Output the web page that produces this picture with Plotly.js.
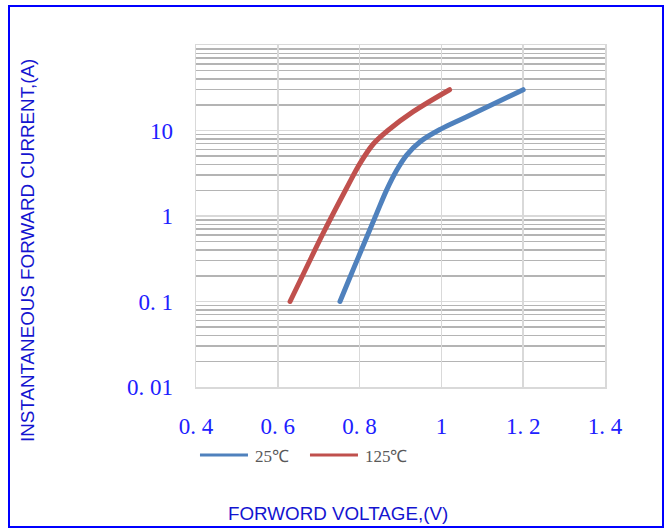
<!DOCTYPE html>
<html>
<head>
<meta charset="utf-8">
<script src="https://cdn.plot.ly/plotly-3.0.1.min.js"></script>
<style>
  html, body { margin: 0; padding: 0; background: #fff; }
  #wrap { position: relative; width: 669px; height: 528px; }
  #chart { position: absolute; left: 0; top: 0; width: 669px; height: 528px; }
  #frame { position: absolute; left: 8px; top: 5px; width: 652px; height: 519px;
           border: 2.5px solid #0000ff; pointer-events: none; }
  .scatterlayer path.js-line { stroke-linecap: round; }
  .legend .legendlines path { stroke-width: 3px !important; }
</style>
</head>
<body>
<div id="wrap">
  <div id="chart"></div>
  <div id="frame"></div>
</div>
<script>
// Data
const seriesNames = ["25℃", "125℃"];
const v25  = [0.752, 0.777, 0.801, 0.842, 0.866, 0.891, 0.915, 0.948, 0.997, 1.062, 1.20];
const i25  = [0.10, 0.195, 0.366, 1.08, 2.01, 3.45, 5.16, 7.4, 10.3, 14.5, 30];
const v125 = [0.63, 0.671, 0.711, 0.768, 0.801, 0.834, 0.869, 0.931, 1.02];
const i125 = [0.10, 0.255, 0.63, 2.11, 4.13, 7.0, 10.0, 16.6, 30];

const xTickVals = [0.4, 0.6, 0.8, 1.0, 1.2, 1.4];
const xTickText = ["0. 4", "0. 6", "0. 8", "1", "1. 2", "1. 4"];
const yTickVals = [0.01, 0.1, 1, 10];
const yTickText = ["0. 01", "0. 1", "1", "10"];
const decades = [0.01, 0.1, 1, 10];
const digits = [2, 3, 4, 5, 6, 7, 8, 9];
const yMinorVals = [];
decades.forEach(d => digits.forEach(k => yMinorVals.push(+(d * k).toPrecision(3))));

const xTitle = "FORWORD VOLTAGE,(V)";
const yTitle = "INSTANTANEOUS FORWARD CURRENT,(A)";

const traces = [
  { x: v25, y: i25, name: seriesNames[0], type: "scatter", mode: "lines",
    line: { color: "#4F81BD", width: 5, shape: "spline", smoothing: 1 } },
  { x: v125, y: i125, name: seriesNames[1], type: "scatter", mode: "lines",
    line: { color: "#C0504D", width: 5, shape: "spline", smoothing: 1 } }
];

const tickFont = { family: "Liberation Serif, Times New Roman, serif", size: 23, color: "#2020ff" };
const titleFont = { family: "Liberation Sans, Arial, sans-serif", size: 18.8, color: "#1414d0" };

const layout = {
  width: 669, height: 528,
  margin: { l: 196, r: 64, t: 45, b: 141 },
  paper_bgcolor: "#ffffff", plot_bgcolor: "#ffffff",
  showlegend: true,
  legend: {
    orientation: "h", x: -0.0025, xanchor: "left", y: -0.2, yanchor: "middle",
    font: { family: "Liberation Serif, Times New Roman, serif", size: 17, color: "#595959" },
    itemwidth: 50, entrywidth: 45, entrywidthmode: "pixels", bgcolor: "rgba(0,0,0,0)"
  },
  xaxis: {
    type: "linear", range: [0.4, 1.4],
    tickmode: "array", tickvals: xTickVals, ticktext: xTickText,
    tickfont: tickFont, ticks: "", ticklabelstandoff: 18,
    showgrid: true, gridcolor: "#d9d9d9", gridwidth: 1.5,
    showline: true, linecolor: "#d9d9d9", linewidth: 1.5, mirror: true,
    zeroline: false, fixedrange: true
  },
  yaxis: {
    type: "log", range: [-2, 2],
    tickmode: "array", tickvals: yTickVals, ticktext: yTickText,
    tickfont: tickFont, ticks: "", ticklabelstandoff: 17,
    showgrid: true, gridcolor: "#d9d9d9", gridwidth: 1.5,
    minor: { tickmode: "array", tickvals: yMinorVals, showgrid: true,
             gridcolor: "#b4b4b4", gridwidth: 1.5, ticks: "" },
    showline: true, linecolor: "#d9d9d9", linewidth: 1.5, mirror: true,
    zeroline: false, fixedrange: true
  },
  annotations: [
    { text: xTitle, xref: "paper", yref: "paper", x: (338 - 196) / 409, y: (387 - 513) / 342,
      xanchor: "center", yanchor: "middle", showarrow: false, font: titleFont },
    { text: yTitle, xref: "paper", yref: "paper", x: (27 - 196) / 409, y: (387 - 251) / 342,
      xanchor: "center", yanchor: "middle", textangle: -90, showarrow: false, font: titleFont }
  ]
};

Plotly.newPlot("chart", traces, layout, { displayModeBar: false, staticPlot: true }).then(() => {
  // lengthen the legend line samples to match the reference
  document.querySelectorAll("#chart .legend .legendlines path").forEach(p => p.setAttribute("d", "M5,0h48"));
});
</script>
</body>
</html>
